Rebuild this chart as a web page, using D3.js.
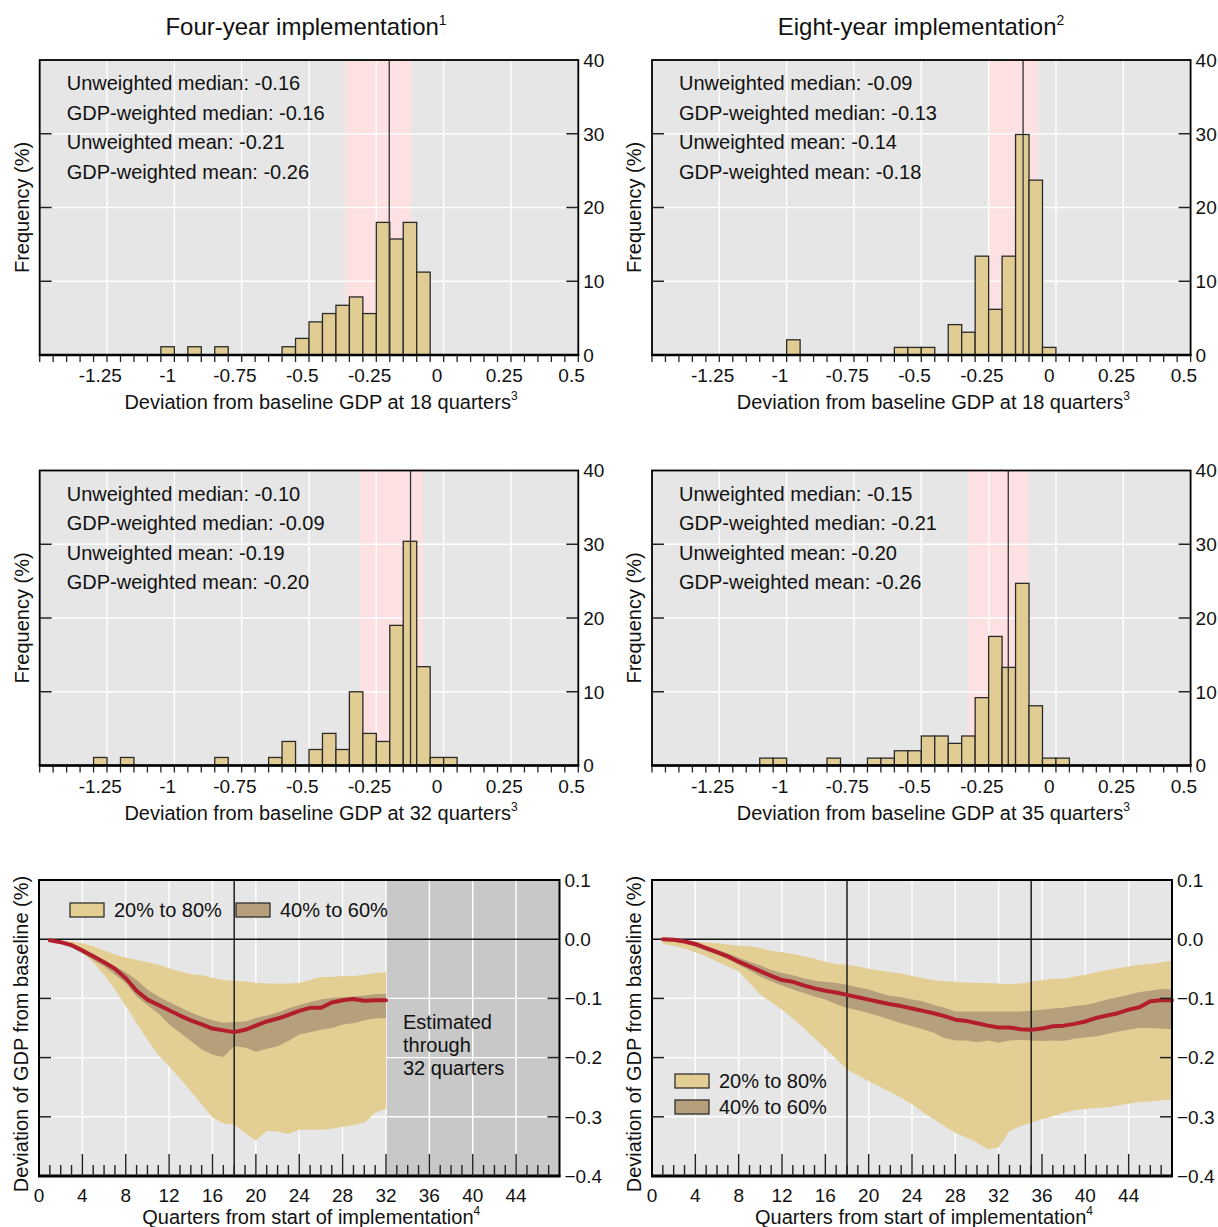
<!DOCTYPE html>
<html><head><meta charset="utf-8">
<script src="https://cdn.jsdelivr.net/npm/d3@7"></script>
<style>
body{margin:0;background:#fff}
text{font-family:"Liberation Sans",Arial,Helvetica,sans-serif;fill:#111}
</style></head>
<body><svg id="c" width="1218" height="1227"></svg>
<script>
// ---------------- DATA ----------------
const titles = ["Four-year implementation", "Eight-year implementation"];
const titleNotes = ["1", "2"];
const statLabels = ["Unweighted median: ", "GDP-weighted median: ", "Unweighted mean: ", "GDP-weighted mean: "];

const histXTicks = [-1.25, -1, -0.75, -0.5, -0.25, 0, 0.25, 0.5];
const histXTickLabels = ["-1.25", "-1", "-0.75", "-0.5", "-0.25", "0", "0.25", "0.5"];
const histYTicks = [0, 10, 20, 30, 40];

// Panel A: four-year, 18 quarters
const histA_bins = [-1.0, -0.9, -0.8, -0.55, -0.5, -0.45, -0.4, -0.35, -0.3, -0.25, -0.2, -0.15, -0.1, -0.05];
const histA_freq = [1.12, 1.12, 1.12, 1.12, 2.25, 4.49, 5.62, 6.74, 7.87, 5.62, 17.98, 15.73, 17.98, 11.24];
const histA_stats = ["-0.16", "-0.16", "-0.21", "-0.26"];
const histA_line = -0.177;
const histA_band = [-0.34, -0.094];
const histA_quarter = "18";

// Panel B: eight-year, 18 quarters
const histB_bins = [-0.95, -0.55, -0.5, -0.45, -0.35, -0.3, -0.25, -0.2, -0.15, -0.1, -0.05, 0];
const histB_freq = [2.06, 1.03, 1.03, 1.03, 4.12, 3.09, 13.4, 6.19, 13.4, 29.9, 23.71, 1.03];
const histB_stats = ["-0.09", "-0.13", "-0.14", "-0.18"];
const histB_line = -0.097;
const histB_band = [-0.222, -0.04];
const histB_quarter = "18";

// Panel C: four-year, 32 quarters
const histC_bins = [-1.25, -1.15, -0.8, -0.6, -0.55, -0.45, -0.4, -0.35, -0.3, -0.25, -0.2, -0.15, -0.1, -0.05, 0, 0.05];
const histC_freq = [1.09, 1.09, 1.09, 1.09, 3.26, 2.17, 4.35, 2.17, 10.0, 4.35, 3.26, 19.0, 30.4, 13.4, 1.09, 1.09];
const histC_stats = ["-0.10", "-0.09", "-0.19", "-0.20"];
const histC_line = -0.098;
const histC_band = [-0.287, -0.051];
const histC_quarter = "32";

// Panel D: eight-year, 35 quarters
const histD_bins = [-1.05, -1.0, -0.8, -0.65, -0.6, -0.55, -0.5, -0.45, -0.4, -0.35, -0.3, -0.25, -0.2, -0.15, -0.1, -0.05, 0, 0.05];
const histD_freq = [1, 1, 1, 1, 1, 2, 2, 4, 4, 3, 4, 9.2, 17.5, 13.3, 24.7, 8.1, 1, 1];
const histD_stats = ["-0.15", "-0.21", "-0.20", "-0.26"];
const histD_line = -0.152;
const histD_band = [-0.303, -0.076];
const histD_quarter = "35";

// Bottom panels: quarters, percentile bands and median path
const pathXTicks = [0, 4, 8, 12, 16, 20, 24, 28, 32, 36, 40, 44];
const pathYTicks = [0.1, 0.0, -0.1, -0.2, -0.3, -0.4];
const pathYTickLabels = ["0.1", "0.0", "\u22120.1", "\u22120.2", "\u22120.3", "\u22120.4"];
const legendLabels = ["20% to 80%", "40% to 60%"];

const q4_quarters = [1,2,3,4,5,6,7,8,9,10,11,12,13,14,15,16,17,18,19,20,21,22,23,24,25,26,27,28,29,30,31,32];
const q4_median = [-0.002,-0.005,-0.010,-0.019,-0.029,-0.039,-0.050,-0.066,-0.087,-0.102,-0.111,-0.120,-0.129,-0.137,-0.144,-0.151,-0.154,-0.157,-0.153,-0.146,-0.139,-0.134,-0.128,-0.121,-0.116,-0.116,-0.107,-0.103,-0.101,-0.104,-0.103,-0.103];
const q4_p80 = [-0.002,-0.003,-0.004,-0.007,-0.012,-0.019,-0.026,-0.031,-0.035,-0.039,-0.043,-0.049,-0.054,-0.059,-0.061,-0.065,-0.069,-0.070,-0.071,-0.074,-0.075,-0.075,-0.075,-0.074,-0.069,-0.064,-0.064,-0.062,-0.062,-0.060,-0.057,-0.056];
const q4_p20 = [-0.003,-0.007,-0.012,-0.022,-0.039,-0.060,-0.085,-0.113,-0.142,-0.170,-0.195,-0.215,-0.235,-0.257,-0.279,-0.301,-0.311,-0.313,-0.327,-0.340,-0.324,-0.325,-0.329,-0.322,-0.322,-0.322,-0.320,-0.317,-0.314,-0.310,-0.293,-0.287];
const q4_p60 = [-0.002,-0.005,-0.010,-0.017,-0.026,-0.036,-0.046,-0.056,-0.069,-0.085,-0.097,-0.106,-0.115,-0.124,-0.131,-0.137,-0.141,-0.140,-0.139,-0.133,-0.129,-0.124,-0.117,-0.111,-0.106,-0.102,-0.099,-0.098,-0.097,-0.095,-0.093,-0.092];
const q4_p40 = [-0.003,-0.008,-0.014,-0.024,-0.035,-0.046,-0.060,-0.074,-0.097,-0.111,-0.125,-0.144,-0.158,-0.172,-0.186,-0.195,-0.199,-0.181,-0.183,-0.190,-0.185,-0.181,-0.172,-0.161,-0.157,-0.153,-0.150,-0.144,-0.142,-0.137,-0.134,-0.133];
const q4_markers = [18];
const q4_estimatedThrough = 32;
const q4_note = ["Estimated", "through", "32 quarters"];

const q8_quarters = [1,2,3,4,5,6,7,8,9,10,11,12,13,14,15,16,17,18,19,20,21,22,23,24,25,26,27,28,29,30,31,32,33,34,35,36,37,38,39,40,41,42,43,44,45,46,47,48];
const q8_median = [0.000,-0.001,-0.004,-0.008,-0.015,-0.022,-0.029,-0.038,-0.046,-0.054,-0.062,-0.069,-0.072,-0.078,-0.083,-0.087,-0.090,-0.094,-0.098,-0.102,-0.106,-0.110,-0.113,-0.117,-0.121,-0.125,-0.130,-0.136,-0.138,-0.142,-0.146,-0.149,-0.149,-0.152,-0.153,-0.151,-0.147,-0.146,-0.143,-0.139,-0.133,-0.129,-0.125,-0.119,-0.115,-0.105,-0.103,-0.103];
const q8_p80 = [0.000,-0.001,-0.003,-0.004,-0.006,-0.007,-0.009,-0.011,-0.012,-0.015,-0.020,-0.022,-0.025,-0.029,-0.033,-0.038,-0.042,-0.043,-0.046,-0.050,-0.053,-0.056,-0.058,-0.062,-0.066,-0.069,-0.071,-0.072,-0.073,-0.074,-0.074,-0.075,-0.076,-0.075,-0.072,-0.069,-0.067,-0.067,-0.063,-0.060,-0.056,-0.052,-0.049,-0.046,-0.043,-0.042,-0.039,-0.036];
const q8_p20 = [-0.008,-0.011,-0.016,-0.022,-0.029,-0.038,-0.046,-0.054,-0.074,-0.094,-0.106,-0.119,-0.134,-0.150,-0.167,-0.184,-0.202,-0.220,-0.230,-0.240,-0.249,-0.258,-0.268,-0.279,-0.292,-0.304,-0.316,-0.327,-0.335,-0.344,-0.355,-0.352,-0.324,-0.316,-0.310,-0.304,-0.299,-0.293,-0.289,-0.287,-0.285,-0.284,-0.281,-0.278,-0.275,-0.274,-0.272,-0.271];
const q8_p60 = [0.000,-0.001,-0.003,-0.007,-0.012,-0.018,-0.024,-0.031,-0.038,-0.044,-0.052,-0.057,-0.061,-0.066,-0.070,-0.072,-0.074,-0.077,-0.081,-0.085,-0.091,-0.096,-0.098,-0.102,-0.105,-0.111,-0.116,-0.122,-0.122,-0.122,-0.122,-0.122,-0.122,-0.122,-0.121,-0.119,-0.117,-0.116,-0.113,-0.111,-0.107,-0.102,-0.098,-0.094,-0.089,-0.087,-0.084,-0.085];
const q8_p40 = [-0.002,-0.004,-0.007,-0.013,-0.020,-0.026,-0.034,-0.043,-0.053,-0.063,-0.071,-0.078,-0.085,-0.091,-0.097,-0.102,-0.110,-0.116,-0.120,-0.125,-0.130,-0.136,-0.142,-0.147,-0.152,-0.158,-0.167,-0.171,-0.171,-0.174,-0.171,-0.175,-0.171,-0.170,-0.171,-0.172,-0.171,-0.172,-0.168,-0.166,-0.164,-0.160,-0.156,-0.153,-0.150,-0.150,-0.151,-0.152];
const q8_markers = [18, 35];

// ---------------- STYLE ----------------
const C = {bg:"#e6e6e6", grid:"#ffffff", pink:"#fde0e1", bar:"#e1cd93", barStroke:"#2a2a2a",
  light:"#e3cf93", dark:"#b5a07b", red:"#b31e2d", shade:"#c8c8c8", ink:"#111"};
const F_TICK = 19, F_TITLE = 24, F_STAT = 20, F_AX = 20;
const BIN_W = 0.05, GRID_SHIFT = 0.025;
const HIST_DOMAIN = [-1.475, 0.525];

const svg = d3.select("#c");

// Column titles
[[titles[0], titleNotes[0], 306], [titles[1], titleNotes[1], 921]].forEach(([t, n, cx]) => {
  const tx = svg.append("text").attr("x", cx).attr("y", 35).attr("text-anchor", "middle")
    .style("font-size", F_TITLE + "px");
  tx.append("tspan").text(t);
  tx.append("tspan").attr("dy", -10).style("font-size", "14px").text(n);
});

function drawHist(p) {
  const x = d3.scaleLinear().domain(HIST_DOMAIN).range([p.x0, p.x1]);
  const y = d3.scaleLinear().domain([0, 40]).range([p.y1, p.y0]);
  const g = svg.append("g");
  g.append("rect").attr("x", p.x0).attr("y", p.y0).attr("width", p.x1 - p.x0).attr("height", p.y1 - p.y0).attr("fill", C.bg);
  g.append("rect").attr("x", x(p.band[0])).attr("y", p.y0).attr("width", x(p.band[1]) - x(p.band[0]))
    .attr("height", p.y1 - p.y0).attr("fill", C.pink);
  // gridlines
  g.selectAll(".vg").data(histXTicks.filter(v => v < 0.5)).join("line")
    .attr("x1", d => x(d + GRID_SHIFT)).attr("x2", d => x(d + GRID_SHIFT)).attr("y1", p.y0).attr("y2", p.y1)
    .attr("stroke", C.grid).attr("stroke-width", 1.4);
  g.selectAll(".hg").data(histYTicks.filter(v => v > 0 && v < 40)).join("line")
    .attr("x1", p.x0).attr("x2", p.x1).attr("y1", d => y(d)).attr("y2", d => y(d))
    .attr("stroke", C.grid).attr("stroke-width", 1.4);
  // bars
  g.selectAll(".bar").data(p.bins.map((b, i) => ({b, f: p.freq[i]}))).join("rect")
    .attr("x", d => x(d.b - BIN_W / 2)).attr("width", d => x(d.b + BIN_W / 2) - x(d.b - BIN_W / 2))
    .attr("y", d => y(d.f)).attr("height", d => y(0) - y(d.f))
    .attr("fill", C.bar).attr("stroke", C.barStroke).attr("stroke-width", 1.3);
  // median line
  g.append("line").attr("x1", x(p.line)).attr("x2", x(p.line)).attr("y1", p.y0).attr("y2", p.y1)
    .attr("stroke", "#333").attr("stroke-width", 1.3);
  // frame
  g.append("rect").attr("x", p.x0).attr("y", p.y0).attr("width", p.x1 - p.x0).attr("height", p.y1 - p.y0)
    .attr("fill", "none").attr("stroke", "#000").attr("stroke-width", 1.8);
  g.append("line").attr("x1", p.x0 - 1).attr("x2", p.x1 + 1).attr("y1", p.y1).attr("y2", p.y1)
    .attr("stroke", "#000").attr("stroke-width", 2.6);
  // y ticks inside both sides
  const yt = histYTicks.filter(v => v > 0 && v < 40);
  g.selectAll(".ytl").data(yt).join("line").attr("x1", p.x0).attr("x2", p.x0 + 12)
    .attr("y1", d => y(d)).attr("y2", d => y(d)).attr("stroke", "#222").attr("stroke-width", 1.5);
  g.selectAll(".ytr").data(yt).join("line").attr("x1", p.x1 - 12).attr("x2", p.x1)
    .attr("y1", d => y(d)).attr("y2", d => y(d)).attr("stroke", "#222").attr("stroke-width", 1.5);
  g.selectAll(".ylab").data(histYTicks).join("text").attr("x", p.x1 + 5).attr("y", d => y(d))
    .attr("dy", "0.36em").style("font-size", F_TICK + "px").text(d => d);
  // minor x ticks at bin edges
  const edges = d3.range(0, 41).map(k => HIST_DOMAIN[0] + k * BIN_W);
  g.selectAll(".xt").data(edges).join("line").attr("x1", d => x(d)).attr("x2", d => x(d))
    .attr("y1", p.y1).attr("y2", p.y1 + 7).attr("stroke", "#222").attr("stroke-width", 1.3);
  g.selectAll(".xlab").data(histXTicks).join("text").attr("x", d => x(d)).attr("y", p.y1 + 27)
    .attr("text-anchor", "middle").style("font-size", F_TICK + "px")
    .text((d, i) => histXTickLabels[i]);
  // x title
  const xt = g.append("text").attr("x", (p.x0 + p.x1) / 2 + 12).attr("y", p.y1 + 54)
    .attr("text-anchor", "middle").style("font-size", F_AX + "px");
  xt.append("tspan").text("Deviation from baseline GDP at " + p.quarter + " quarters");
  xt.append("tspan").attr("dy", -9).style("font-size", "12px").text("3");
  // y title
  g.append("text").attr("transform", `translate(${p.x0 - 11},${(p.y0 + p.y1) / 2}) rotate(-90)`)
    .attr("text-anchor", "middle").style("font-size", F_AX + "px").text("Frequency (%)");
  // stats
  g.selectAll(".st").data(statLabels).join("text").attr("x", p.x0 + 27)
    .attr("y", (d, i) => p.y0 + 30 + i * 29.5).style("font-size", F_STAT + "px")
    .text((d, i) => d + p.stats[i]);
}

drawHist({x0: 39.7, x1: 578.3, y0: 60, y1: 355, bins: histA_bins, freq: histA_freq, stats: histA_stats, line: histA_line, band: histA_band, quarter: histA_quarter});
drawHist({x0: 652, x1: 1190.6, y0: 60, y1: 355, bins: histB_bins, freq: histB_freq, stats: histB_stats, line: histB_line, band: histB_band, quarter: histB_quarter});
drawHist({x0: 39.7, x1: 578.3, y0: 470.5, y1: 765.5, bins: histC_bins, freq: histC_freq, stats: histC_stats, line: histC_line, band: histC_band, quarter: histC_quarter});
drawHist({x0: 652, x1: 1190.6, y0: 470.5, y1: 765.5, bins: histD_bins, freq: histD_freq, stats: histD_stats, line: histD_line, band: histD_band, quarter: histD_quarter});

function drawPath(p) {
  const x = d3.scaleLinear().domain([0, 48]).range([p.x0, p.x1]);
  const y = d3.scaleLinear().domain([-0.4, 0.1]).range([p.y1, p.y0]);
  const g = svg.append("g");
  g.append("rect").attr("x", p.x0).attr("y", p.y0).attr("width", p.x1 - p.x0).attr("height", p.y1 - p.y0).attr("fill", C.bg);
  if (p.shadeFrom != null) {
    g.append("rect").attr("x", x(p.shadeFrom)).attr("y", p.y0).attr("width", p.x1 - x(p.shadeFrom))
      .attr("height", p.y1 - p.y0).attr("fill", C.shade);
  }
  g.selectAll(".vg").data(pathXTicks.filter(v => v > 0)).join("line")
    .attr("x1", d => x(d)).attr("x2", d => x(d)).attr("y1", p.y0).attr("y2", p.y1)
    .attr("stroke", C.grid).attr("stroke-width", 1.4);
  const hy = pathYTicks.filter(v => v < 0 && v > -0.4);
  g.selectAll(".hg").data(hy).join("line").attr("x1", p.x0).attr("x2", p.x1)
    .attr("y1", d => y(d)).attr("y2", d => y(d)).attr("stroke", C.grid).attr("stroke-width", 1.4);
  const rows = p.q.map((q, i) => ({q, m: p.med[i], p20: p.p20[i], p80: p.p80[i], p40: p.p40[i], p60: p.p60[i]}));
  g.append("path").datum(rows).attr("fill", C.light)
    .attr("d", d3.area().x(d => x(d.q)).y0(d => y(d.p20)).y1(d => y(d.p80)));
  g.append("path").datum(rows).attr("fill", C.dark)
    .attr("d", d3.area().x(d => x(d.q)).y0(d => y(d.p40)).y1(d => y(d.p60)));
  g.selectAll(".mk").data(p.markers).join("line").attr("x1", d => x(d)).attr("x2", d => x(d))
    .attr("y1", p.y0).attr("y2", p.y1).attr("stroke", "#111").attr("stroke-width", 1.4);
  g.append("line").attr("x1", p.x0).attr("x2", p.x1).attr("y1", y(0)).attr("y2", y(0))
    .attr("stroke", "#111").attr("stroke-width", 1.4);
  g.append("path").datum(rows).attr("fill", "none").attr("stroke", C.red).attr("stroke-width", 4)
    .attr("stroke-linejoin", "round").attr("stroke-linecap", "round")
    .attr("d", d3.line().x(d => x(d.q)).y(d => y(d.m)));
  // frame
  g.append("rect").attr("x", p.x0).attr("y", p.y0).attr("width", p.x1 - p.x0).attr("height", p.y1 - p.y0)
    .attr("fill", "none").attr("stroke", "#000").attr("stroke-width", 2);
  g.append("line").attr("x1", p.x0 - 1).attr("x2", p.x1 + 1).attr("y1", p.y1).attr("y2", p.y1)
    .attr("stroke", "#000").attr("stroke-width", 3);
  // side ticks
  g.selectAll(".ytl").data(hy).join("line").attr("x1", p.x0).attr("x2", p.x0 + 12)
    .attr("y1", d => y(d)).attr("y2", d => y(d)).attr("stroke", "#222").attr("stroke-width", 1.5);
  g.selectAll(".ytr").data(hy).join("line").attr("x1", p.x1 - 12).attr("x2", p.x1)
    .attr("y1", d => y(d)).attr("y2", d => y(d)).attr("stroke", "#222").attr("stroke-width", 1.5);
  // bottom ticks (inside, upward) every quarter, longer every 4
  const qt = d3.range(1, 48);
  g.selectAll(".bt").data(qt).join("line").attr("x1", d => x(d)).attr("x2", d => x(d))
    .attr("y1", p.y1).attr("y2", d => p.y1 - (d % 4 === 0 ? 22 : 11))
    .attr("stroke", "#222").attr("stroke-width", 1.4);
  g.selectAll(".xlab").data(pathXTicks).join("text").attr("x", d => x(d)).attr("y", p.y1 + 26)
    .attr("text-anchor", "middle").style("font-size", F_TICK + "px").text(d => d);
  g.selectAll(".ylab").data(pathYTicks).join("text").attr("x", p.x1 + 5).attr("y", d => y(d))
    .attr("dy", "0.36em").style("font-size", F_TICK + "px").text((d, i) => pathYTickLabels[i]);
  const xt = g.append("text").attr("x", (p.x0 + p.x1) / 2 + 12).attr("y", p.y1 + 48)
    .attr("text-anchor", "middle").style("font-size", F_AX + "px");
  xt.append("tspan").text("Quarters from start of implementation");
  xt.append("tspan").attr("dy", -9).style("font-size", "12px").text("4");
  g.append("text").attr("transform", `translate(${p.x0 - 11},${(p.y0 + p.y1) / 2 + 6}) rotate(-90)`)
    .attr("text-anchor", "middle").style("font-size", F_AX + "px").text("Deviation of GDP from baseline (%)");
  // legend
  p.legend.forEach((L, i) => {
    g.append("rect").attr("x", L.x).attr("y", L.y).attr("width", 34).attr("height", 14)
      .attr("fill", i === 0 ? C.light : C.dark).attr("stroke", "#222").attr("stroke-width", 1.2);
    g.append("text").attr("x", L.x + 44).attr("y", L.y + 14).style("font-size", F_STAT + "px").text(legendLabels[i]);
  });
  if (p.note) {
    g.selectAll(".note").data(p.note).join("text").attr("x", x(p.shadeFrom) + 17)
      .attr("y", (d, i) => 1029 + i * 23).style("font-size", F_STAT + "px").text(d => d);
  }
}

drawPath({x0: 39, x1: 559.5, y0: 880, y1: 1176, q: q4_quarters, med: q4_median, p20: q4_p20, p80: q4_p80,
  p40: q4_p40, p60: q4_p60, markers: q4_markers, shadeFrom: q4_estimatedThrough, note: q4_note,
  legend: [{x: 70, y: 903}, {x: 236, y: 903}]});
drawPath({x0: 652, x1: 1172, y0: 880, y1: 1176, q: q8_quarters, med: q8_median, p20: q8_p20, p80: q8_p80,
  p40: q8_p40, p60: q8_p60, markers: q8_markers, shadeFrom: null, note: null,
  legend: [{x: 675, y: 1074}, {x: 675, y: 1100}]});
</script></body></html>
